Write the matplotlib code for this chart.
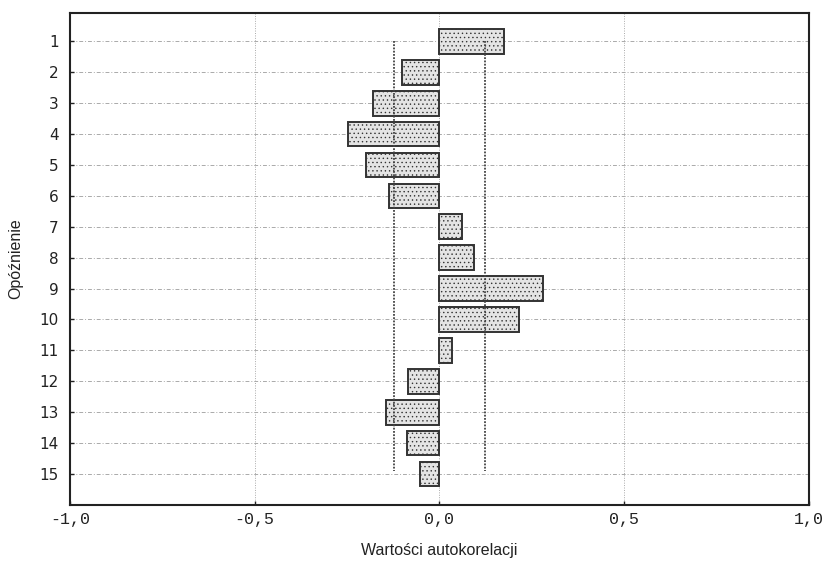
import matplotlib
matplotlib.use("Agg")
import matplotlib.pyplot as plt
import numpy as np

lags = list(range(1, 16))
acf = [0.174, -0.101, -0.180, -0.248, -0.199, -0.137, 0.061, 0.093,
       0.280, 0.215, 0.034, -0.085, -0.145, -0.088, -0.053]
conf = 0.123
xticks = [-1.0, -0.5, 0.0, 0.5, 1.0]
xticklabels = ["-1,0", "-0,5", "0,0", "0,5", "1,0"]

plt.rcParams['hatch.color'] = '#c4c4c4'
plt.rcParams['hatch.linewidth'] = 0.5

fig = plt.figure(figsize=(8.25, 5.66), dpi=100)
ax = fig.add_axes([0.0848, 0.108, 0.8958, 0.869])

# grid
for y in lags:
    ax.axhline(y, color='#aaaaaa', lw=0.7, ls=(0, (4, 2, 1, 2)), zorder=0)
for x in [-0.5, 0.0, 0.5]:
    ax.axvline(x, color='#aaaaaa', lw=0.7, ls=(0, (1, 1.5)), zorder=0)

ax.barh(lags, acf, height=0.8, color='#e4e4e4', edgecolor='#333333',
        linewidth=1.4, hatch='....', zorder=2)

ax.plot([-conf, -conf], [1, 14.9], color='#444444', lw=1.3, ls=(0, (1, 0.8)), zorder=3)
ax.plot([conf, conf], [1, 14.9], color='#444444', lw=1.3, ls=(0, (1, 0.8)), zorder=3)

ax.set_xlim(-1, 1)
ax.set_ylim(16.0, 0.08)
ax.set_xticks(xticks)
ax.set_xticklabels(xticklabels, family='Liberation Mono', fontsize=12, color='#222222')
ax.set_yticks(lags)
ax.set_yticklabels([str(l) for l in lags], family='DejaVu Sans', fontsize=11, color='#222222')
ax.tick_params(direction='in', length=3, width=1, pad=8, colors='#222222')
ax.tick_params(axis='x', pad=5)
for s in ax.spines.values():
    s.set_linewidth(1.5)
    s.set_color('#222222')

ax.set_xlabel("Wartości autokorelacji", family='Liberation Sans', fontsize=11.5,
              color='#222222', labelpad=12)
ax.set_ylabel("Opóźnienie", family='Liberation Sans', fontsize=11.5,
              color='#222222', labelpad=12)

fig.savefig("out.png", dpi=100)
